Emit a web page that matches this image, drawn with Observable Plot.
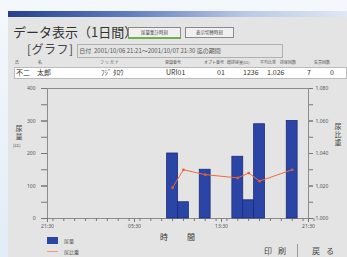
<!DOCTYPE html>
<html><head><meta charset="utf-8">
<script src="https://cdn.jsdelivr.net/npm/d3@7"></script>
<script src="https://cdn.jsdelivr.net/npm/@observablehq/plot@0.6"></script>
<style>
html,body{margin:0;padding:0;}
body{width:347px;height:257px;overflow:hidden;position:relative;background:linear-gradient(#f4f8fc,#e2ecf6);font-family:"Noto Sans CJK JP","Noto Sans",sans-serif;color:#333;}
.abs{position:absolute;white-space:nowrap;}
#panel{left:8px;top:11px;width:339px;height:246px;background:#e4e4e4;}
#titlebar{left:8px;top:11px;width:339px;height:6px;background:linear-gradient(to right,#24408e,#5d7cc0 35%,#b9c9e6 70%,#dfe7f3);}
.btn{height:9px;border:1px solid #8a8a8a;background:#f0f0f0;font-size:4.5px;line-height:9px;text-align:center;color:#444;}
.hd{font-size:4px;color:#555;top:59px;}
.val{font-size:7px;color:#333;top:67px;line-height:10px;}
.vt{writing-mode:vertical-rl;text-orientation:upright;font-size:7px;color:#444;letter-spacing:1px;}
#chart{left:8px;top:82px;}
</style></head>
<body>
<div id="panel" class="abs"></div>
<div id="titlebar" class="abs"></div>
<div class="abs" style="left:13px;top:22px;font-size:13px;color:#333;">データ表示（1日間）</div>
<div class="abs btn" style="left:128px;top:27px;width:51px;border-bottom:2px solid #6fb04a;">尿量集計時刻</div>
<div class="abs btn" style="left:185px;top:27px;width:47px;">表示切替時刻</div>
<div class="abs" style="left:27px;top:40px;font-size:12px;color:#444;letter-spacing:0.5px;">[グラフ]</div>
<div class="abs" style="left:77px;top:44px;width:204px;height:12px;border:1px solid #b0b0b0;font-size:6px;line-height:12px;color:#555;">&nbsp;日付&nbsp;&nbsp;2001/10/06 21:21〜2001/10/07 21:30 迄の期間</div>
<div class="abs hd" style="left:15px;">氏</div>
<div class="abs hd" style="left:38px;">名</div>
<div class="abs hd" style="left:100px;">フ リ ガ ナ</div>
<div class="abs hd" style="left:165px;">登録番号</div>
<div class="abs hd" style="left:204px;">オプト番号</div>
<div class="abs hd" style="left:227px;">総排尿量(cc)</div>
<div class="abs hd" style="left:260px;">平均比重</div>
<div class="abs hd" style="left:280px;">排尿回数</div>
<div class="abs hd" style="left:314px;">失禁回数</div>
<div class="abs" style="left:14px;top:67px;width:331px;height:10px;background:#fff;border:1px solid #bbb;"></div>
<div class="abs val" style="left:16px;">不二　太郎</div>
<div class="abs val" style="left:101px;">ﾌｼﾞ ﾀﾛｳ</div>
<div class="abs val" style="left:166px;">URI01</div>
<div class="abs val" style="left:217px;">01</div>
<div class="abs val" style="left:243px;">1236</div>
<div class="abs val" style="left:267px;">1.026</div>
<div class="abs val" style="left:307px;">7</div>
<div class="abs val" style="left:330px;">0</div>
<div id="chart" class="abs"></div>
<div class="abs vt" style="left:14px;top:125px;">尿量</div>
<div class="abs" style="left:13px;top:142px;font-size:4.5px;color:#444;">(cc)</div>
<div class="abs vt" style="left:333px;top:123px;">尿比重</div>
<div class="abs" style="left:160px;top:231px;font-size:8px;color:#333;letter-spacing:19px;">時間</div>
<div class="abs" style="left:47px;top:237px;width:11px;height:7px;background:#2b45a6;"></div>
<div class="abs" style="left:64px;top:237px;font-size:5px;color:#555;">尿量</div>
<div class="abs" style="left:47px;top:251px;width:11px;height:1px;background:#f29a78;"></div>
<div class="abs" style="left:64px;top:248px;font-size:5px;color:#555;">尿比重</div>
<div class="abs" style="left:264px;top:245px;font-size:8px;color:#444;letter-spacing:6px;">印刷</div>
<div class="abs" style="left:297px;top:244px;width:1px;height:13px;background:#999;"></div>
<div class="abs" style="left:312px;top:245px;font-size:8px;color:#444;letter-spacing:6px;">戻る</div>
<script>
// ---- data ----
const startTimes = ["08:30","09:30","11:30","14:30","15:30","16:30","19:30"]; // 2001/10/07
const urineVolume = [200, 50, 150, 190, 56, 290, 300];            // cc
const specificGravity = [1.019, 1.030, 1.027, 1.025, 1.028, 1.023, 1.030];
const leftTickLabels = ["0","100","200","300","400"];
const rightTickLabels = ["1.000","1.020","1.040","1.060","1.080"];
const timeTickLabels = ["21:30","05:30","13:30","21:30"];

const parse = d3.utcParse("%Y-%m-%d %H:%M");
const start = parse("2001-10-06 21:30");
const end = parse("2001-10-07 21:30");
const rows = startTimes.map((t, i) => {
  const s = parse("2001-10-07 " + t);
  return {s, e: d3.utcHour.offset(s, 1), m: d3.utcMinute.offset(s, 30), vol: urineVolume[i], sg: specificGravity[i]};
});
const sgMin = +rightTickLabels[0], sgMax = +rightTickLabels[rightTickLabels.length - 1];
const yMax = +leftTickLabels[leftTickLabels.length - 1];
const sgToY = v => (v - sgMin) / (sgMax - sgMin) * yMax;
const leftMajor = leftTickLabels.map(Number);
const leftMinor = d3.range(0, yMax + 1, 50);
const rightMajor = rightTickLabels.map(l => sgToY(+l));
const hourTicks = d3.utcHour.range(start, d3.utcHour.offset(end, 1));
const majorTimes = timeTickLabels.map((l, i) => d3.utcHour.offset(start, i * 8));

const chart = Plot.plot({
  width: 339, height: 150,
  marginLeft: 39, marginRight: 39, marginTop: 6, marginBottom: 14,
  style: {background: "transparent", fontSize: "5px", fontFamily: "'Noto Sans', sans-serif", color: "#555"},
  x: {type: "utc", domain: [start, end]},
  y: {domain: [0, yMax]},
  marks: [
    Plot.frame({stroke: "#8c8c8c"}),
    Plot.axisY({ticks: leftMinor, tickSize: 6, tickFormat: () => "", label: null, stroke: "#777"}),
    Plot.axisY({ticks: leftMajor, tickSize: 6, tickPadding: 6, tickFormat: (d, i) => leftTickLabels[i], label: null, stroke: "#777"}),
    Plot.axisY({anchor: "right", ticks: leftMinor, tickSize: 4, tickFormat: () => "", label: null, stroke: "#777"}),
    Plot.axisY({anchor: "right", ticks: rightMajor, tickSize: 4, tickPadding: 3, tickFormat: (d, i) => rightTickLabels[i], label: null, stroke: "#777"}),
    Plot.axisX({ticks: hourTicks, tickSize: 3, tickFormat: () => "", label: null, stroke: "#777"}),
    Plot.axisX({ticks: majorTimes, tickSize: 4, tickPadding: 2, tickFormat: (d, i) => timeTickLabels[i], label: null, stroke: "#777"}),
    Plot.rectY(rows, {x1: "s", x2: "e", y: "vol", fill: "#2b45a6", stroke: "#1b2a78", strokeWidth: 0.8, insetLeft: 0, insetRight: 0}),
    Plot.line(rows, {x: "m", y: d => sgToY(d.sg), stroke: "#ee6a3c", strokeWidth: 1}),
    Plot.dot(rows, {x: "m", y: d => sgToY(d.sg), r: 1.3, fill: "#ee5a2c", stroke: "none"})
  ]
});
document.getElementById("chart").append(chart);
</script>
</body></html>
